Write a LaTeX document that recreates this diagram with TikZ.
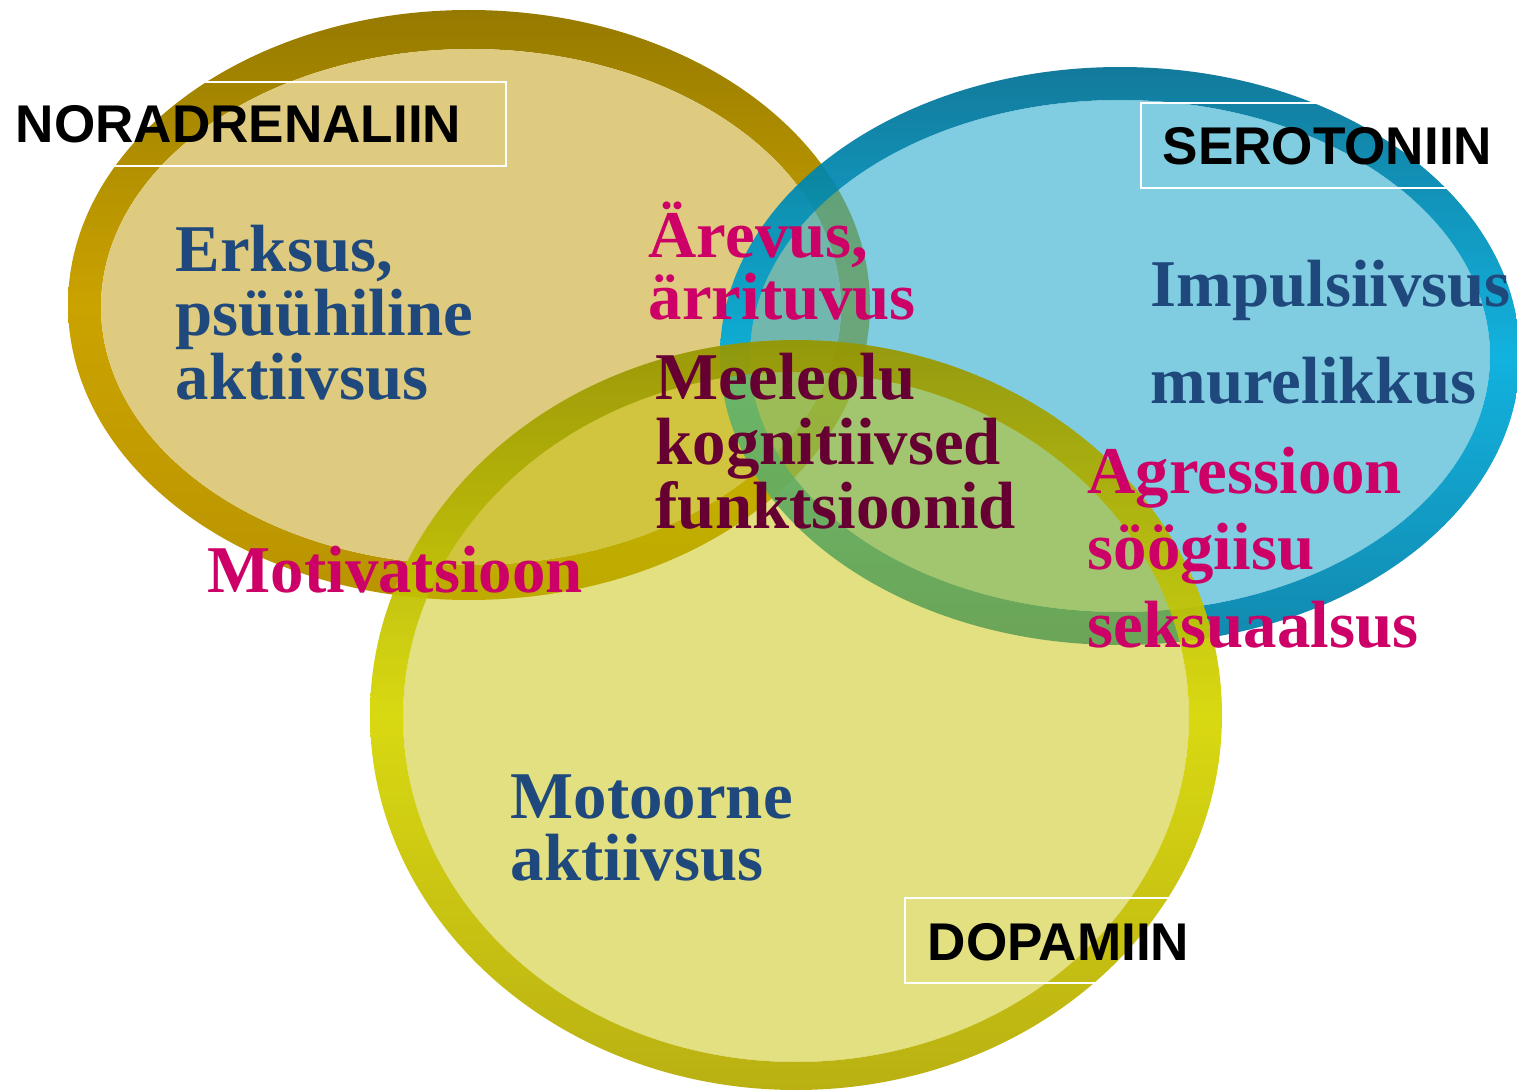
\documentclass[tikz,border=0pt]{standalone}
\usepackage{fontspec}
\setmainfont{Liberation Serif}
\setsansfont{Liberation Sans}
\definecolor{norTop}{RGB}{150,122,0}
\definecolor{norMid}{RGB}{203,163,0}
\definecolor{norBot}{RGB}{185,148,0}
\definecolor{norIn}{RGB}{222,203,128}
\definecolor{serTop}{RGB}{0,112,148}
\definecolor{serMid}{RGB}{0,172,220}
\definecolor{serBot}{RGB}{0,128,168}
\definecolor{serIn}{RGB}{43,170,203}
\definecolor{dopTop}{RGB}{150,150,0}
\definecolor{dopMid}{RGB}{214,214,0}
\definecolor{dopBot}{RGB}{180,170,0}
\definecolor{dopIn}{RGB}{197,193,1}
\definecolor{blueTxt}{RGB}{31,73,125}
\definecolor{pinkTxt}{RGB}{204,0,102}
\definecolor{wineTxt}{RGB}{102,0,51}
\tikzset{
  rim/.style={even odd rule, shade},
  txt/.style={anchor=base west, inner sep=0pt, font=\fontsize{19}{18}\selectfont\bfseries},
  lbl/.style={anchor=base west, inner sep=0pt, font=\sffamily\bfseries\fontsize{15.1}{15}\selectfont},
  box/.style={draw=white, line width=.6pt}
}
\begin{document}
\begin{tikzpicture}[x=.01cm, y=-.01cm]
    \useasboundingbox (0,0) rectangle (1517,1091);
    % noradrenaliin
    \path[rim, top color=norTop, bottom color=norBot, middle color=norMid] (469,305) ellipse [x radius=401, y radius=295] (471,307) ellipse [x radius=370, y radius=258];
    \fill[norIn] (471,307) ellipse [x radius=370, y radius=258];
    % serotoniin
    \path[rim, fill opacity=.93, top color=serTop, bottom color=serBot, middle color=serMid] (1120,356) ellipse [x radius=400, y radius=289] (1120,356) ellipse [x radius=370, y radius=256];
    \fill[serIn, fill opacity=.6] (1120,356) ellipse [x radius=370, y radius=256];
    % dopamiin
    \path[rim, fill opacity=.93, top color=dopTop, bottom color=dopBot, middle color=dopMid] (796,715) ellipse [x radius=426, y radius=375] (796,717) ellipse [x radius=393, y radius=345];
    \fill[dopIn, fill opacity=.5] (796,717) ellipse [x radius=393, y radius=345];

    \draw[box] (10,82) rectangle (506,166);
    \draw[box] (1141,103) rectangle (1510,188);
    \draw[box] (905,898) rectangle (1200,983);
    \node[lbl] (nor) at (15,143) {NORADRENALIIN};
    \node[lbl] (ser) at (1162,165) {SEROTONIIN};
    \node[lbl] (dop) at (927,960) {DOPAMIIN};

    \node[txt, blueTxt] (erk1) at (175,272) {Erksus,};
    \node[txt, blueTxt] (erk2) at (175,336) {psüühiline};
    \node[txt, blueTxt] (erk3) at (175,400) {aktiivsus};
    \node[txt, pinkTxt] (are1) at (648,258) {Ärevus,};
    \node[txt, pinkTxt] (are2) at (648,320) {ärrituvus};
    \node[txt, wineTxt] (mee1) at (655,400) {Meeleolu};
    \node[txt, wineTxt] (mee2) at (655,465) {kognitiivsed};
    \node[txt, wineTxt] (mee3) at (655,528) {funktsioonid};
    \node[txt, blueTxt] (imp) at (1150,307) {Impulsiivsus};
    \node[txt, blueTxt] (mur) at (1150,403) {murelikkus};
    \node[txt, pinkTxt] (agr1) at (1087,494) {Agressioon};
    \node[txt, pinkTxt] (agr2) at (1087,570) {söögiisu};
    \node[txt, pinkTxt] (agr3) at (1087,648) {seksuaalsus};
    \node[txt, pinkTxt] (mot) at (207,593) {Motivatsioon};
    \node[txt, blueTxt] (moo1) at (510,818) {Motoorne};
    \node[txt, blueTxt] (moo2) at (510,880) {aktiivsus};
\end{tikzpicture}
\end{document}
